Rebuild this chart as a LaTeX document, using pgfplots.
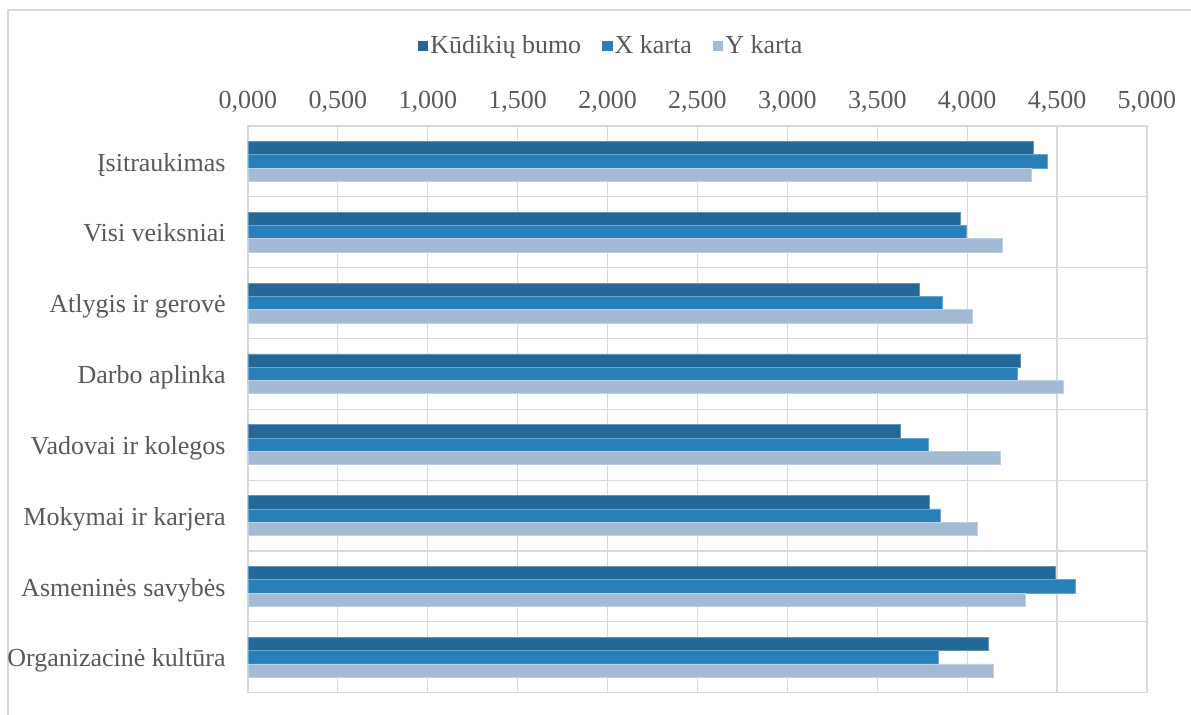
\documentclass[border=0pt]{standalone}
\usepackage{fontspec}
\setmainfont{Liberation Serif}
\usepackage{pgfplots}
\pgfplotsset{compat=1.18}
\usepackage{pgfplotstable}
\definecolor{cK}{RGB}{35,104,150}
\definecolor{cX}{RGB}{41,128,185}
\definecolor{cY}{RGB}{164,185,212}
\definecolor{tg}{RGB}{89,89,89}
\definecolor{gl}{RGB}{217,217,217}

\pgfplotstableread{
y K X Y
7 4.366 4.448 4.359
6 3.965 3.998 4.197
5 3.736 3.864 4.030
4 4.297 4.281 4.537
3 3.628 3.784 4.186
2 3.792 3.853 4.059
1 4.492 4.600 4.321
0 4.119 3.838 4.143
}\data

\begin{document}
\begin{tikzpicture}
\path[use as bounding box] (0,0) rectangle (595.5pt,-357.5pt);
\draw[gl, line width=0.6pt] (4pt,-5pt) rectangle (640pt,-400pt);
\begin{axis}[
  at={(124pt,-63pt)}, anchor=north west,
  width=449.5pt, height=283.35pt, scale only axis,
  xbar,
  xmin=0, xmax=5, ymin=-0.5, ymax=7.5,
  xtick={0,0.5,1,1.5,2,2.5,3,3.5,4,4.5,5},
  ytick={0,1,2,3,4,5,6,7},
  yticklabels={Organizacinė kultūra, Asmeninės savybės, Mokymai ir karjera, Vadovai ir kolegos, Darbo aplinka, Atlygis ir gerovė, Visi veiksniai, Įsitraukimas},
  minor ytick={-0.5,0.5,1.5,2.5,3.5,4.5,5.5,6.5,7.5},
  yminorgrids, xmajorgrids, ymajorgrids=false,
  grid style={gl, line width=0.6pt},
  minor grid style={gl, line width=0.6pt},
  axis line style={gl, line width=0.6pt},
  major tick length=0pt, minor tick length=0pt,
  tick label style={font=\fontsize{13}{15}\selectfont, text=tg},
  xticklabel pos=upper,
  xticklabel style={/pgf/number format/.cd, fixed, fixed zerofill, precision=3, use comma, 1000 sep={}, assume math mode=true, /tikz/.cd, anchor=base, inner sep=0pt, yshift=8.75pt},
  yticklabel style={anchor=base east, inner sep=0pt, xshift=-11pt, yshift=-4.8pt},
  bar width=6.65pt,
  legend style={draw=none, at={(0.4040,1.141)}, anchor=center, legend columns=-1,
    font=\fontsize{13}{15}\selectfont, text=tg,
    /tikz/every even column/.append style={column sep=9.5pt},
    nodes={inner sep=1pt}},
  legend image code/.code={\path[#1, draw=none] (0pt,-2.6pt) rectangle (5.2pt,2.6pt);},
]
\addplot[xbar, bar shift=6.65pt, fill=cK, draw=cK!70!white, line width=0.4pt] table[x=K,y=y]{\data};
\addplot[xbar, bar shift=0pt, fill=cX, draw=cX!70!white, line width=0.4pt] table[x=X,y=y]{\data};
\addplot[xbar, bar shift=-6.65pt, fill=cY, draw=cY!70!white, line width=0.4pt] table[x=Y,y=y]{\data};
\legend{Kūdikių bumo, X karta, Y karta}
\end{axis}
\end{tikzpicture}
\end{document}
